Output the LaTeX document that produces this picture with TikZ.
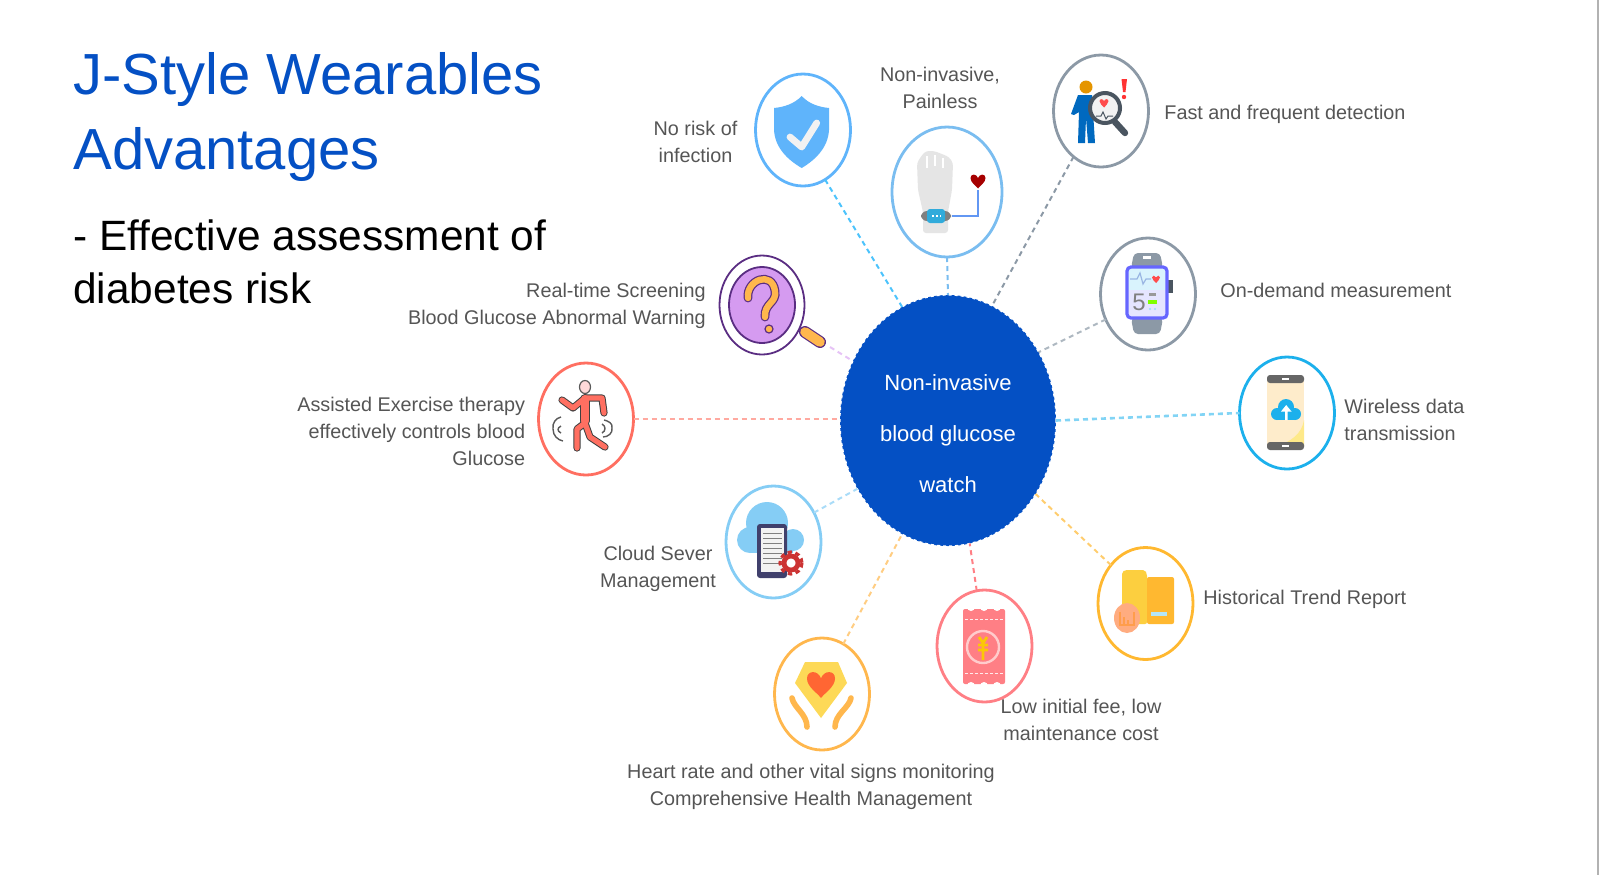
\documentclass[tikz,border=0pt]{standalone}
\usepackage{fontspec}
\setmainfont{Liberation Sans}
\usetikzlibrary{shapes.geometric}
\definecolor{hubblue}{HTML}{0450C4}
\definecolor{labelgrey}{HTML}{555555}
\definecolor{shieldblue}{HTML}{5FB4FB}
\definecolor{slategrey}{HTML}{8C99A6}
\definecolor{darkslate}{HTML}{4A5560}
\definecolor{skyblue}{HTML}{1CB0EC}
\definecolor{wristblue}{HTML}{7ABDF0}
\definecolor{cloudblue}{HTML}{85CDF5}
\definecolor{lenspurple}{HTML}{5A2D82}
\definecolor{lilac}{HTML}{D59BF0}
\definecolor{runred}{HTML}{FF6F61}
\definecolor{amber}{HTML}{FFB74D}
\definecolor{ticketred}{HTML}{FF7F85}
\definecolor{folderyellow}{HTML}{FFB830}
\newcommand{\heartat}[3]{\fill[#1,shift={(#2)},scale=#3] (0,1) .. controls (-0.3,0.6) and (-1,0.2) .. (-1,-0.4) .. controls (-1,-1) and (-0.2,-1) .. (0,-0.4) .. controls (0.2,-1) and (1,-1) .. (1,-0.4) .. controls (1,0.2) and (0.3,0.6) .. (0,1) -- cycle;}
\tikzset{
  ring/.style={ellipse,draw=#1,fill=white,line width=1.4pt,minimum width=47.5pt,minimum height=56pt,inner sep=0pt,outer sep=0pt},
  link/.style={line width=1pt,dash pattern=on 2.5pt off 2pt},
  labeltext/.style={font=\fontsize{9.9}{13.5}\selectfont,text=labelgrey,inner sep=0pt},
}
\begin{document}
\begin{tikzpicture}[x=0.5pt,y=-0.5pt]
\useasboundingbox (0,0) rectangle (1600,875);
\draw[black!30,line width=1pt] (1598,0) -- (1598,875);
% title
\node[anchor=west,inner sep=0pt,align=left,text=hubblue,font=\fontsize{29}{37.7}\selectfont] (title) at (73,117) {J-Style Wearables\\Advantages};
\node[anchor=west,inner sep=0pt,align=left,font=\fontsize{21.2}{26.8}\selectfont] (subtitle) at (73,262) {- Effective assessment of\\diabetes risk};
% hub and rings
\node[ellipse,fill=hubblue,draw=white,line width=0.6pt,dash pattern=on 1.5pt off 1.5pt,minimum width=108pt,minimum height=125.5pt,inner sep=0pt,outer sep=0pt] (hub) at (948,420.5) {};
\node[inner sep=0pt,text=white,align=center,font=\fontsize{11}{25.5}\selectfont] (hubtext) at (948,434) {Non-invasive\\blood glucose\\watch};
\node[ring=shieldblue] (shield) at (803,130) {};
\node[ring=wristblue,minimum width=55pt,minimum height=65pt] (wrist) at (947,192) {};
\node[ring=slategrey] (fast) at (1101,111) {};
\node[ring=slategrey] (watch) at (1148,294) {};
\node[ring=skyblue] (phone) at (1287,413) {};
\node[ring=lenspurple,line width=0.9pt,minimum width=42.5pt,minimum height=49.5pt] (lens) at (762,305) {};
\node[ring=runred] (runner) at (586,419) {};
\node[ring=cloudblue] (server) at (773.5,542) {};
\node[ring=amber] (care) at (822,694) {};
\node[ring=ticketred] (ticket) at (984.5,646) {};
\node[ring=folderyellow] (folder) at (1145.5,603.5) {};
\coordinate (lenstip) at (830,347);
% connectors
\draw[link,shieldblue!80!cyan] (shield.-66) -- (hub.112.6);
\draw[link,wristblue] (wrist.south) -- (hub.north);
\draw[link,slategrey] (fast.-121) -- (hub.69);
\draw[link,slategrey!70] (watch.-149) -- (hub.37.7);
\draw[link,skyblue!55,line width=1.3pt] (hub.east) -- (phone.west);
\draw[link,lilac!60] (lenstip) -- (hub.148);
\draw[link,runred!60,line width=1.2pt] (runner.east) -- (hub.west |- runner.east);
\draw[link,cloudblue!70] (server.36.8) -- (hub.-143);
\draw[link,amber!70] (care.67) -- (hub.-112.8);
\draw[link,ticketred] (ticket.98.5) -- (hub.-80.4);
\draw[link,folderyellow!70] (folder.132) -- (hub.-40);
% shield
\fill[shieldblue] (801.7,96) .. controls (794,104) and (784,107) .. (774,108) -- (774,130) .. controls (775,148) and (788,160) .. (801.7,168) .. controls (815,160) and (828,148) .. (829,130) -- (829,108) .. controls (819,107) and (809,104) .. (801.7,96) -- cycle;
\draw[black!5,line width=3.4pt,line cap=round,line join=round] (790,137) -- (801.7,147) -- (816.7,123);
% wrist
\fill[black!10,rounded corners=1.5pt] (917,163) -- (922,155) -- (926,151) -- (934,151) -- (942,154) -- (949,157) -- (953,163) -- (952,190) -- (948,212) -- (948,233) -- (923,233) -- (923,212) -- (918,190) -- cycle;
\draw[white,line width=0.6pt] (927,156) -- (927,168) (935,155) -- (935,166) (943,158) -- (943,168);
\fill[black!50,rounded corners=3pt] (921,211) rectangle (951,221);
\fill[cyan!75!teal!90!white,rounded corners=1.5pt] (927,209) rectangle (945,223);
\draw[white,line width=0.6pt,dash pattern=on 1pt off 1pt] (932,216) -- (941,216);
\draw[wristblue!80!blue,line width=1pt] (952,216) -- (978,216) -- (978,190);
\heartat{red!65!black}{978,181}{7.5}
% fast detection
\fill[orange!70!yellow!90!black] (1086,87) circle (6.5);
\fill[blue!45!cyan!75!black,line join=round] (1078,95) -- (1092,95) -- (1095,143) -- (1088,143) -- (1086,118) -- (1085,143) -- (1078,143) -- (1079,112) -- (1074,115) -- (1071,114) -- cycle;
\draw[darkslate,line width=3.2pt,line cap=round] (1115,122) -- (1125,133);
\draw[darkslate,fill=black!5,line width=2pt] (1105,108) circle (15);
\heartat{red!70!white}{1104,103}{4.5}
\draw[darkslate,line width=0.5pt] (1096,116) -- (1101,116) -- (1103,112) -- (1106,119) -- (1108,116) -- (1113,116);
\fill[red!80!white] (1121.5,79) -- (1127,79) -- (1125.5,92) -- (1123,92) -- cycle;
\fill[red!80!white] (1124,97) circle (2.2);
% watch
\fill[slategrey,rounded corners=2pt] (1134,253) -- (1160,253) -- (1163,268) -- (1131,268) -- cycle;
\fill[slategrey,rounded corners=2pt] (1131,318) -- (1163,318) -- (1160,334) -- (1134,334) -- cycle;
\fill[white] (1143,256) rectangle (1151,259);
\fill[darkslate] (1167,280) rectangle (1173,293);
\fill[blue!10!white] (1127,267) rectangle (1167,318);
\fill[cyan!15!white] (1127,267) rectangle (1167,290);
\draw[cyan!50!blue!40,line width=0.6pt] (1130,279) -- (1137,279) -- (1140,273) -- (1143,284) -- (1146,279) -- (1151,279);
\draw[blue!60!white,rounded corners=2pt,line width=1.6pt] (1127,267) rectangle (1167,318);
\heartat{red!70!white}{1156,279}{4}
\node[font=\fontsize{12}{12}\selectfont,text=black!50,inner sep=0pt] (watchfive) at (1139,302) {5};
\fill[black!40] (1149,293) rectangle (1156,295.5);
\fill[green!50!yellow] (1148,300) rectangle (1157,304);
\fill[cyan!40] (1150,309) circle (1.2) (1155,309) circle (1.2);
% phone
\fill[yellow!25!orange!18!white] (1267,379) rectangle (1304,446);
\fill[yellow!70!orange!45!white] (1304,420) .. controls (1302,434) and (1290,442) .. (1277,446) -- (1304,446) -- cycle;
\fill[black!60,rounded corners=1.5pt] (1267,375) rectangle (1304,383);
\fill[black!60,rounded corners=1.5pt] (1267,442) rectangle (1304,450);
\fill[white] (1282,378) rectangle (1289,380);
\fill[white] (1282,445) rectangle (1289,447);
\fill[skyblue] (1286,407) circle (8) (1277,414) circle (6) (1295,414) circle (6);
\fill[skyblue] (1277,414) rectangle (1295,420);
\fill[white] (1285,420) rectangle (1287.5,411) (1281,411.5) -- (1286.2,405) -- (1291.5,411.5) -- cycle;
% magnifier
\draw[lenspurple,line width=6pt,line cap=round] (805,332) -- (820,342);
\draw[amber,line width=4.8pt,line cap=round] (805,332) -- (820,342);
\draw[lenspurple,fill=lilac,line width=0.9pt] (762,305) ellipse (33 and 38);
\draw[lenspurple,line width=4.4pt,line cap=round] (748,298) .. controls (746,280) and (772,270) .. (775,291) .. controls (777,303) and (764,303) .. (765,317);
\draw[amber,line width=3.2pt,line cap=round] (748,298) .. controls (746,280) and (772,270) .. (775,291) .. controls (777,303) and (764,303) .. (765,317);
\draw[lenspurple,fill=amber,line width=0.6pt] (769,329) circle (4);
% runner
\draw[black!65,line width=0.7pt] (553,429) .. controls (552,423) and (556,418) .. (561,417) (553,429) .. controls (553,436) and (558,440) .. (563,441) (561,426) .. controls (557,428) and (557,431) .. (561,433);
\draw[black!65,line width=0.7pt] (612,428) .. controls (613,423) and (608,421) .. (604,420) (612,428) .. controls (613,433) and (608,437) .. (603,437) (602,424) .. controls (606,426) and (606,431) .. (602,433);
\draw[black!75,line width=3.6pt,line cap=round,line join=round] (562,400) -- (573,408) -- (585,398) -- (602,398) -- (604,413) (585,423) -- (577,429) -- (577,448) (585,423) -- (590,437) -- (605,447);
\draw[black!75,line width=5pt,line cap=round] (585,399) -- (585,421);
\draw[runred,line width=2.6pt,line cap=round,line join=round] (562,400) -- (573,408) -- (585,398) -- (602,398) -- (604,413) (585,423) -- (577,429) -- (577,448) (585,423) -- (590,437) -- (605,447);
\draw[runred,line width=4pt,line cap=round] (585,399) -- (585,421);
\draw[black!65,fill=red!15,line width=0.6pt] (585,387) ellipse (5.5 and 6.5);
% cloud server
\fill[cloudblue] (767,523) circle (21) (750,540) circle (13) (793,540) circle (11);
\fill[cloudblue] (750,535) rectangle (793,553);
\fill[black!65!blue!50!gray,rounded corners=1.5pt] (757,524) rectangle (787,578);
\fill[black!5] (761,528) rectangle (784,572);
\draw[black!50,line width=0.5pt] (763,533) -- (782,533) (763,538) -- (782,538) (763,543) -- (782,543) (763,548) -- (782,548) (763,553) -- (782,553) (763,558) -- (782,558) (763,563) -- (782,563);
\draw[red!60!gray,line width=1.6pt,dash pattern=on 2.2pt off 1.8pt] (791,563) circle (11);
\draw[red!60!gray,fill=white,line width=2.4pt] (791,563) circle (7);
% care
\fill[yellow!60!orange!65!white] (805,662) -- (838,662) -- (847,683) -- (821,718) -- (795,683) -- cycle;
\heartat{orange!50!red!80!white}{821,684}{14}
\draw[amber,line width=2.8pt,line cap=round,line join=round] (792,698) .. controls (794,708) and (807,714) .. (807,727);
\draw[amber,line width=2.8pt,line cap=round,line join=round] (851,698) .. controls (849,708) and (835,714) .. (835,727);
% ticket
\fill[ticketred,rounded corners=1pt] (963,609) rectangle (1005,684);
\fill[white] (971,607) circle (4) (984,607) circle (4) (997,607) circle (4) (971,686) circle (4) (984,686) circle (4) (997,686) circle (4);
\draw[white!85!ticketred,line width=0.5pt,dash pattern=on 1.5pt off 1pt] (965,619) -- (1003,619) (965,673) -- (1003,673);
\draw[red!20!white,line width=1.2pt] (983,647) circle (16);
\draw[yellow!60!orange,line width=1.4pt] (979,637) -- (983,643) -- (987,637) (983,643) -- (983,660) (978,645) -- (988,645) (978,650) -- (988,650);
% folder
\fill[yellow!55!orange!75!white,rounded corners=1pt] (1122,572) -- (1125,570) -- (1145,570) -- (1147,574) -- (1147,624) -- (1122,624) -- cycle;
\fill[folderyellow,rounded corners=1pt] (1147,577) rectangle (1174,624);
\fill[cyan!30!white] (1151,612) rectangle (1167,616);
\fill[orange!70!red!50!white] (1127,618) ellipse (13 and 15);
\draw[orange!90!red!70,line width=0.7pt] (1120,612) -- (1120,625) -- (1134,625) -- (1134,612) (1124,625) -- (1124,617) (1128,625) -- (1128,620);
% labels
\node[labeltext,align=center] (shieldtext) at (695.5,142) {No risk of\\infection};
\node[labeltext,align=center] (wristtext) at (940,88) {Non-invasive,\\Painless};
\node[labeltext,anchor=west] (fasttext) at (1164,114) {Fast and frequent detection};
\node[labeltext,anchor=west] (watchtext) at (1220,290) {On-demand measurement};
\node[labeltext,anchor=west,align=left] (phonetext) at (1344,420) {Wireless data\\transmission};
\node[labeltext,anchor=east,align=right] (lenstext) at (706,306) {Real-time Screening\\Blood Glucose Abnormal Warning};
\node[labeltext,anchor=east,align=right] (runnertext) at (525.5,431) {Assisted Exercise therapy\\effectively controls blood\\Glucose};
\node[labeltext,align=center] (servertext) at (658,569) {Cloud Sever\\Management};
\node[labeltext,anchor=west] (foldertext) at (1203,599) {Historical Trend Report};
\node[labeltext,align=center] (tickettext) at (1081,720) {Low initial fee, low\\maintenance cost};
\node[labeltext,align=center] (caretext) at (811,787) {Heart rate and other vital signs monitoring\\Comprehensive Health Management};
\end{tikzpicture}
\end{document}
